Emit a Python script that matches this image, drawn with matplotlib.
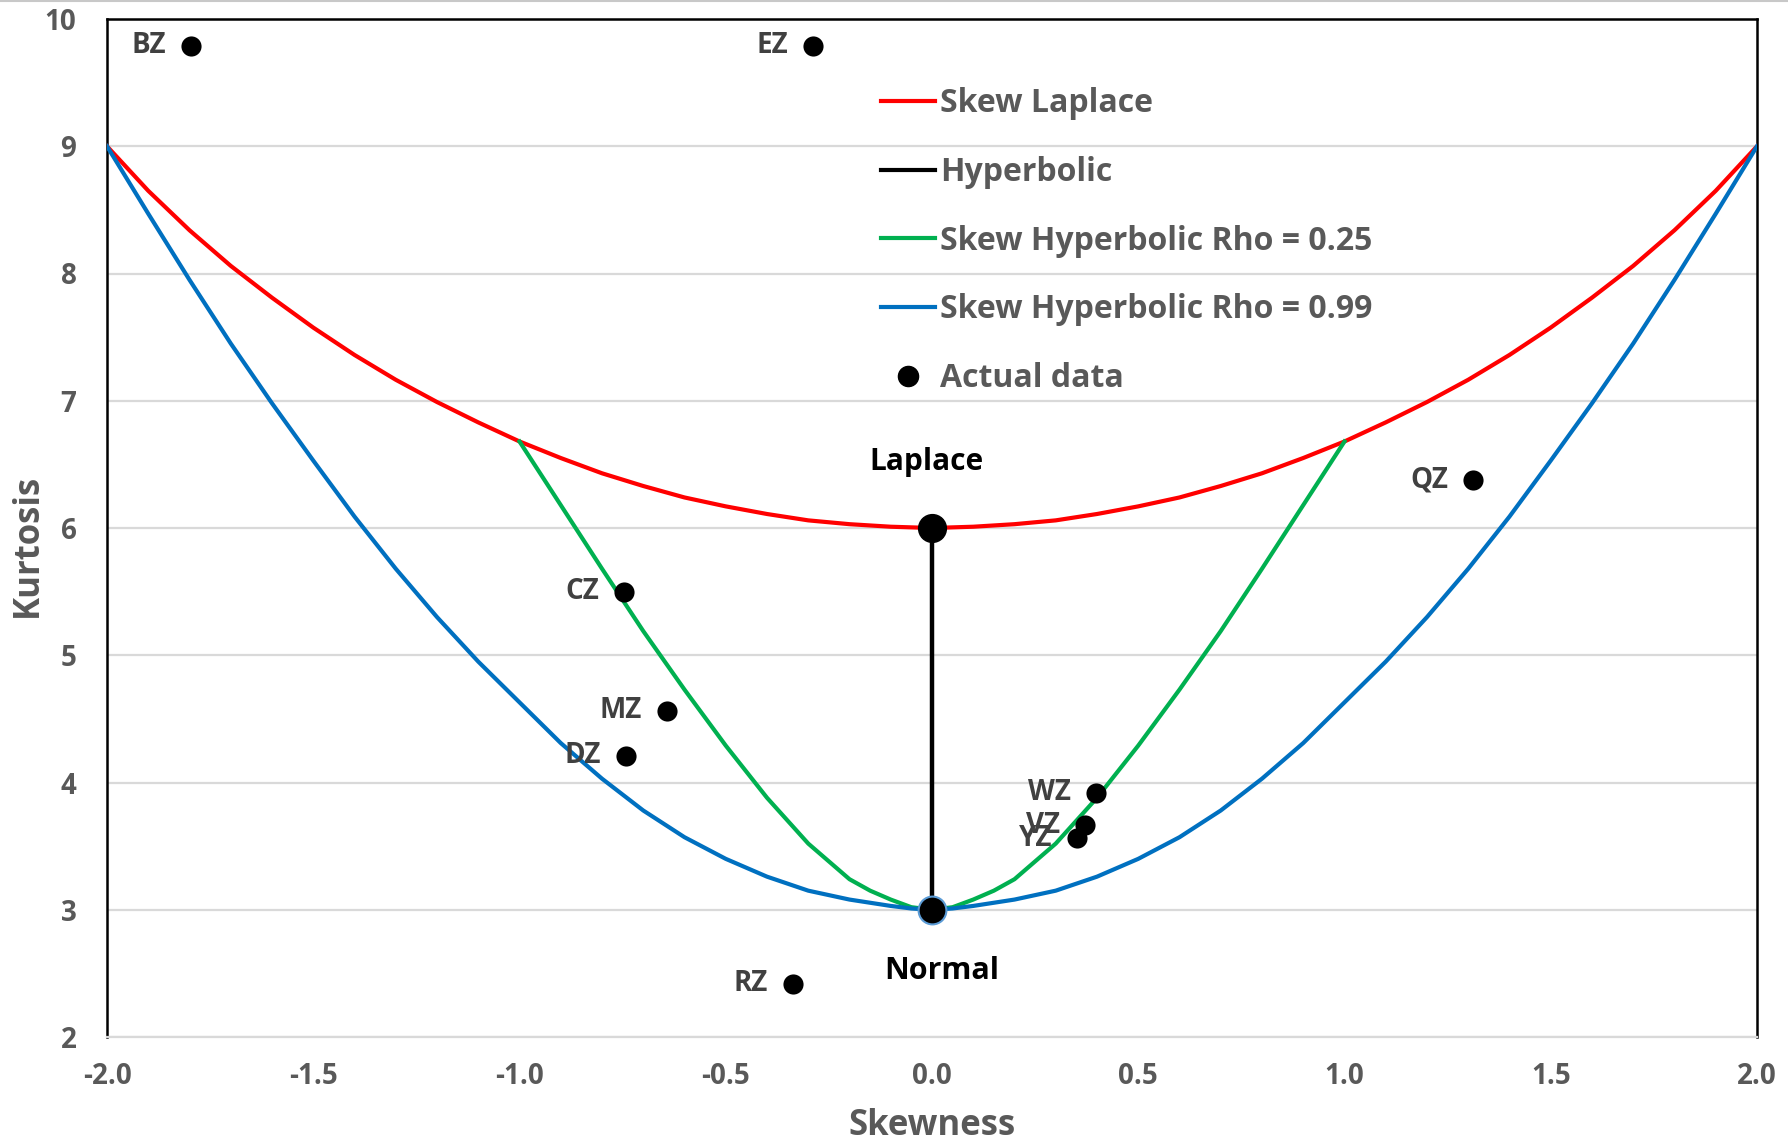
import matplotlib
matplotlib.use("Agg")
import matplotlib.pyplot as plt
from matplotlib.lines import Line2D

# ---------------- data ----------------
laplace_skew = [-2.0, -1.9, -1.8, -1.7, -1.6, -1.5, -1.4, -1.3, -1.2, -1.1, -1.0,
                -0.9, -0.8, -0.7, -0.6, -0.5, -0.4, -0.3, -0.2, -0.1, 0.0,
                0.1, 0.2, 0.3, 0.4, 0.5, 0.6, 0.7, 0.8, 0.9, 1.0,
                1.1, 1.2, 1.3, 1.4, 1.5, 1.6, 1.7, 1.8, 1.9, 2.0]
laplace_kurt = [9.00, 8.65, 8.34, 8.06, 7.81, 7.575, 7.36, 7.165, 6.99, 6.83, 6.68,
                6.55, 6.43, 6.33, 6.24, 6.17, 6.11, 6.06, 6.03, 6.01, 6.00,
                6.01, 6.03, 6.06, 6.11, 6.17, 6.24, 6.33, 6.43, 6.55, 6.68,
                6.83, 6.99, 7.165, 7.36, 7.575, 7.81, 8.06, 8.34, 8.65, 9.00]

hyper_skew = [0.0, 0.0]
hyper_kurt = [3.0, 6.0]

sh25_skew = [-1.0, -0.9, -0.8, -0.7, -0.6, -0.5, -0.4, -0.3, -0.2, -0.15, -0.1, -0.05, 0.0,
             0.05, 0.1, 0.15, 0.2, 0.3, 0.4, 0.5, 0.6, 0.7, 0.8, 0.9, 1.0]
sh25_kurt = [6.68, 6.18, 5.68, 5.19, 4.73, 4.29, 3.88, 3.52, 3.24, 3.15, 3.08, 3.02, 3.00,
             3.02, 3.08, 3.15, 3.24, 3.52, 3.88, 4.29, 4.73, 5.19, 5.68, 6.18, 6.68]

sh99_skew = [-2.0, -1.9, -1.8, -1.7, -1.6, -1.5, -1.4, -1.3, -1.2, -1.1, -1.0,
             -0.9, -0.8, -0.7, -0.6, -0.5, -0.4, -0.3, -0.2, -0.1, -0.05, 0.0,
             0.05, 0.1, 0.2, 0.3, 0.4, 0.5, 0.6, 0.7, 0.8, 0.9, 1.0,
             1.1, 1.2, 1.3, 1.4, 1.5, 1.6, 1.7, 1.8, 1.9, 2.0]
sh99_kurt = [9.00, 8.47, 7.95, 7.45, 6.98, 6.53, 6.09, 5.68, 5.30, 4.95, 4.63,
             4.31, 4.03, 3.78, 3.57, 3.40, 3.26, 3.15, 3.08, 3.03, 3.01, 3.00,
             3.01, 3.03, 3.08, 3.15, 3.26, 3.40, 3.57, 3.78, 4.03, 4.31, 4.63,
             4.95, 5.30, 5.68, 6.09, 6.53, 6.98, 7.45, 7.95, 8.47, 9.00]

data_labels = ["BZ", "EZ", "QZ", "CZ", "MZ", "DZ", "WZ", "VZ", "YZ", "RZ"]
data_skew = [-1.796, -0.288, 1.311, -0.747, -0.642, -0.742, 0.398, 0.370, 0.352, -0.338]
data_kurt = [9.79, 9.79, 6.38, 5.50, 4.565, 4.21, 3.92, 3.666, 3.56, 2.42]

x_ticks = [-2.0, -1.5, -1.0, -0.5, 0.0, 0.5, 1.0, 1.5, 2.0]
y_ticks = [2, 3, 4, 5, 6, 7, 8, 9, 10]

series_names = ["Skew Laplace", "Hyperbolic", "Skew Hyperbolic Rho = 0.25",
                "Skew Hyperbolic Rho = 0.99", "Actual data"]

# ---------------- style ----------------
FONT = "Open Sans"
GRAY = "#595959"
RED = "#FF0000"
GREEN = "#00B050"
BLUE = "#0070C0"

plt.rcParams["font.family"] = [FONT, "DejaVu Sans"]
plt.rcParams["font.weight"] = "bold"

fig = plt.figure(figsize=(17.88, 11.43), dpi=100)
ax = fig.add_axes([107 / 1788, 106 / 1143, 1650 / 1788, 1018 / 1143])

ax.set_xlim(-2.0, 2.0)
ax.set_ylim(2, 10)

# grid
ax.set_yticks(y_ticks)
ax.set_xticks(x_ticks)
ax.yaxis.grid(True, color="#D9D9D9", lw=1.6)
ax.xaxis.grid(False)
ax.set_axisbelow(True)

for side in ["left", "top", "right"]:
    ax.spines[side].set_color("black")
    ax.spines[side].set_linewidth(1.8)
ax.spines["bottom"].set_color("#D9D9D9")
ax.spines["bottom"].set_linewidth(1.6)

ax.tick_params(axis="both", length=0, labelsize=20, labelcolor=GRAY)
ax.tick_params(axis="x", pad=18)
ax.tick_params(axis="y", pad=22)
ax.set_xticklabels([f"{v:.1f}" for v in x_ticks], fontweight="bold")
ax.set_yticklabels([str(v) for v in y_ticks], fontweight="bold")

ax.set_xlabel("Skewness", fontsize=25, color=GRAY, fontweight="bold")
ax.set_ylabel("Kurtosis", fontsize=25, color=GRAY, fontweight="bold")
ax.xaxis.set_label_coords(0.5, -0.070)
ax.yaxis.set_label_coords(-0.037, 0.483)

# curves
ax.plot(laplace_skew, laplace_kurt, color=RED, lw=3.0, zorder=3, solid_joinstyle="round")
ax.plot(hyper_skew, hyper_kurt, color="black", lw=3.2, zorder=4)
ax.plot(sh25_skew, sh25_kurt, color=GREEN, lw=3.0, zorder=3, solid_joinstyle="round")
ax.plot(sh99_skew, sh99_kurt, color=BLUE, lw=3.0, zorder=3, solid_joinstyle="round")

# Laplace / Normal points
ax.plot([hyper_skew[1]], [hyper_kurt[1]], marker="o", ms=20, color="black", zorder=6)
ax.plot([hyper_skew[0]], [hyper_kurt[0]], marker="o", ms=20, markerfacecolor="black",
        markeredgecolor="#5B9BD5", markeredgewidth=1.5, zorder=6)
ax.text(-0.013, 6.52, "Laplace", ha="center", va="center", fontsize=21.5,
        fontweight="bold", color="black", zorder=7)
ax.text(0.024, 2.515, "Normal", ha="center", va="center", fontsize=22,
        fontweight="bold", color="black", zorder=7)

# data points
ax.scatter(data_skew, data_kurt, s=14.5 ** 2, color="black", zorder=7, linewidths=0)
for lab, xs, ys in zip(data_labels, data_skew, data_kurt):
    ax.annotate(lab, (xs, ys), xytext=(-18, 0), textcoords="offset points",
                ha="right", va="center", fontsize=20, fontweight="bold",
                color="#404040", zorder=8)

# legend
handles = [
    Line2D([], [], color=RED, lw=3.0),
    Line2D([], [], color="black", lw=3.0),
    Line2D([], [], color=GREEN, lw=3.0),
    Line2D([], [], color=BLUE, lw=3.0),
    Line2D([], [], color="black", lw=0, marker="o", ms=14.5),
]
leg = ax.legend(handles, series_names, loc="upper left",
                bbox_to_anchor=((881 - 107) / 1650, 1 - (87 - 19) / 1018),
                frameon=False, fontsize=23, handlelength=1.68, handletextpad=0.18,
                labelspacing=1.12, borderpad=0, borderaxespad=0)
for t in leg.get_texts():
    t.set_color(GRAY)
    t.set_fontweight("bold")

# thin gray border line at the very top of the image
fig.add_artist(Line2D([0, 1], [1 - 1 / 1143, 1 - 1 / 1143], color="#C8C8C8", lw=1.5,
                      transform=fig.transFigure))

fig.savefig("out.png", dpi=100)
